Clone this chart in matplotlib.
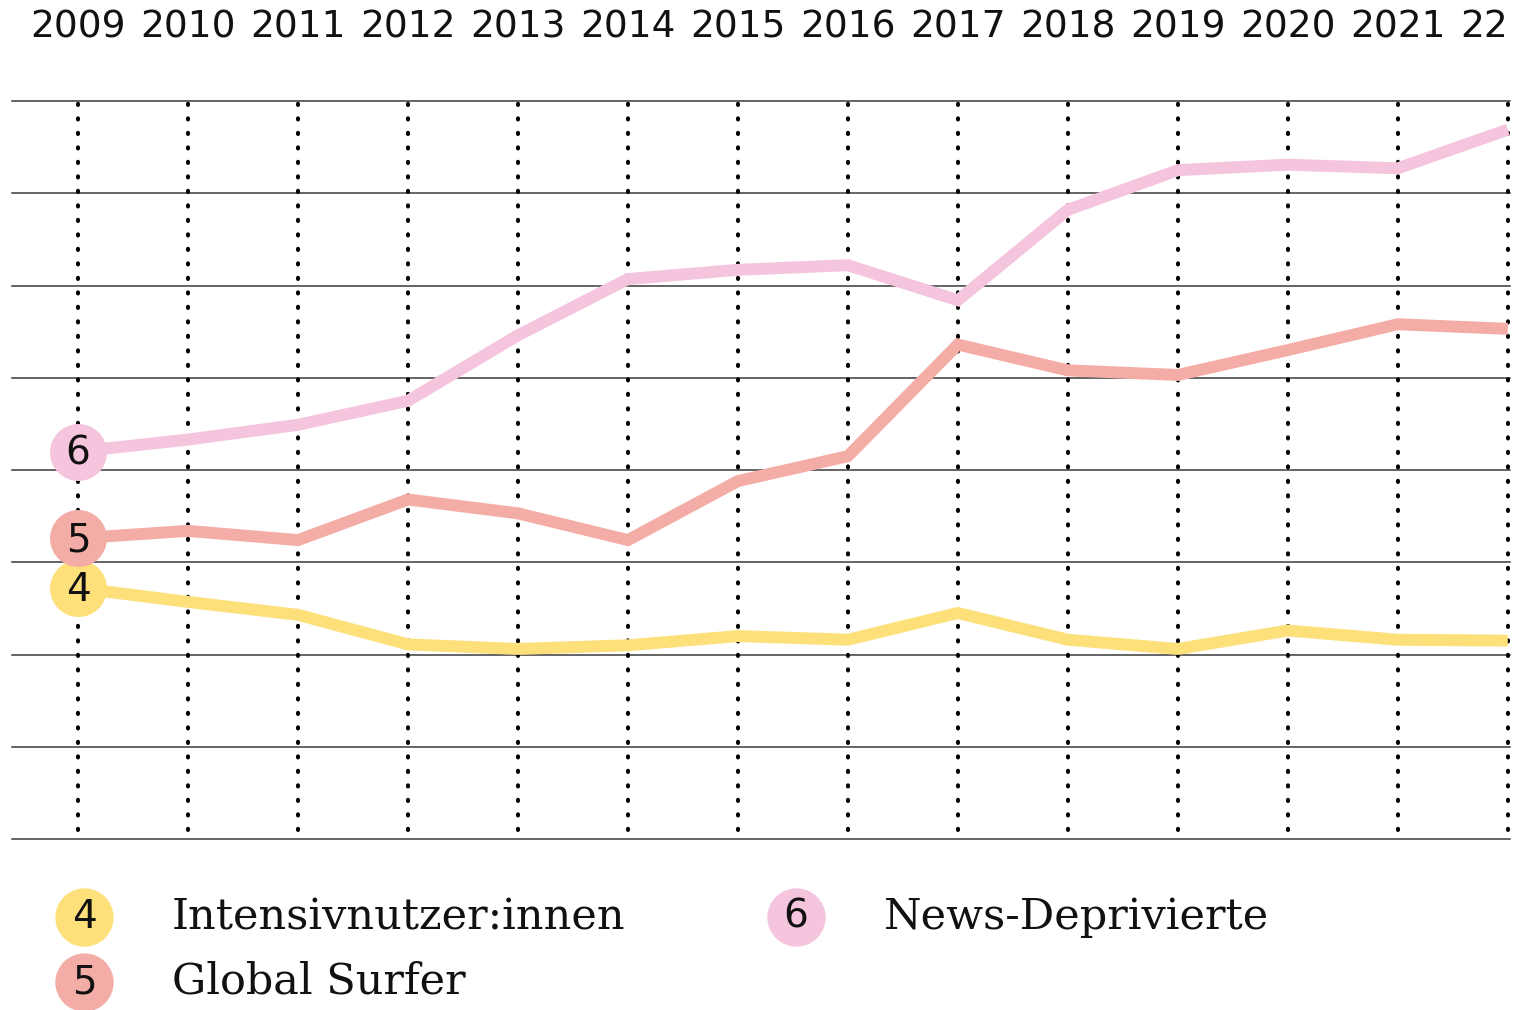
import numpy as np
import matplotlib.pyplot as plt

# data (in grid steps; the 9 horizontal rules are 0..8)
years = [2009, 2010, 2011, 2012, 2013, 2014, 2015, 2016, 2017, 2018, 2019, 2020, 2021, 2022]
year_labels = ["2009", "2010", "2011", "2012", "2013", "2014", "2015", "2016",
               "2017", "2018", "2019", "2020", "2021", "22"]

intensiv = [2.72, 2.57, 2.43, 2.11, 2.06, 2.10, 2.20, 2.16, 2.45, 2.16, 2.06, 2.26, 2.16, 2.15]
surfer = [3.26, 3.34, 3.24, 3.68, 3.53, 3.24, 3.88, 4.15, 5.36, 5.08, 5.03, 5.30, 5.58, 5.53]
depriv = [4.20, 4.33, 4.49, 4.75, 5.46, 6.07, 6.17, 6.22, 5.84, 6.82, 7.25, 7.31, 7.27, 7.69]

series_names = ["Intensivnutzer:innen", "Global Surfer", "News-Deprivierte"]
series_nums = ["4", "5", "6"]
series_vals = [intensiv, surfer, depriv]
colors = ["#FDE07A", "#F4ADA6", "#F5C4DD"]

#---------------------------------------------------------------------------------------

fig = plt.figure(figsize=(15.24, 10.10), dpi=100)
ax = fig.add_axes([12 / 1524, 1 - 839 / 1010, (1510 - 12) / 1524, (839 - 101) / 1010])

ax.set_xlim(2008.4, 2022.02)
ax.set_ylim(0, 8)

# horizontal rules
for yy in range(9):
    ax.axhline(yy, color="#3a3a3a", lw=1.1, zorder=1, clip_on=False)

# dotted vertical year lines
ax.vlines(years, 0.1, 8, color="black", lw=2.9,
          linestyles=(0, (0.3, 3.3)), capstyle="round", zorder=1)

# series lines (draw deprived first so order on top matches)
for vals, col in zip(series_vals[::-1], colors[::-1]):
    ax.plot(years, vals, color=col, lw=8.6, solid_joinstyle="miter",
            solid_capstyle="butt", zorder=3)

# start circles with numbers
for vals, col, num in zip(series_vals, colors, series_nums):
    ax.plot(years[0], vals[0], "o", ms=41, color=col, mec="none", zorder=4, clip_on=False)
    ax.text(years[0], vals[0] - 0.02, num, fontsize=28, ha="center", va="center",
            color="#111111", zorder=5)

# year labels on top
ax.xaxis.tick_top()
ax.set_xticks(years)
ax.set_xticklabels(year_labels, fontsize=27, color="#111111")
ax.tick_params(axis="x", length=0, pad=40)
ax.get_xticklabels()[-1].set_horizontalalignment("right")
ax.set_yticks([])
for s in ax.spines.values():
    s.set_visible(False)

# legend
legend_pos = [(84, 917, 172), (84, 982, 172), (796, 917, 884)]
for (cx, cy, tx), col, num, name in zip(legend_pos, colors, series_nums, series_names):
    fx, fy = cx / 1524, 1 - cy / 1010
    fig.add_artist(plt.Line2D([fx], [fy], marker="o", ms=42, color=col, mec="none",
                              transform=fig.transFigure))
    fig.text(fx, fy, num, fontsize=28, ha="center", va="center", color="#111111")
    fig.text(tx / 1524, fy, name, fontsize=31, ha="left", va="center",
             family="DejaVu Serif", color="#111111")

fig.savefig("out.png", dpi=100)
